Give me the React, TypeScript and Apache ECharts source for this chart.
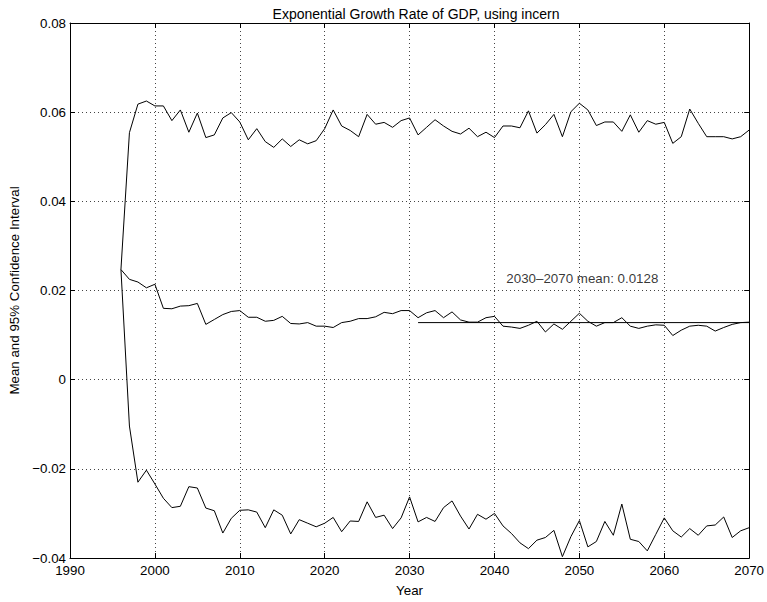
import React, { useEffect, useRef } from "react";
import * as echarts from "echarts";

const TITLE = "Exponential Growth Rate of GDP, using incern";
const X_NAME = "Year";
const Y_NAME = "Mean and 95% Confidence Interval";
const START_YEAR = 1996;
const END_YEAR = 2070;

const UPPER = [
  0.0247, 0.0554, 0.0618, 0.0625,
  0.0614, 0.0614, 0.0581, 0.0605, 0.0555, 0.0598, 0.0543, 0.0549, 0.0587, 0.0599,
  0.0578, 0.0538, 0.0563, 0.0534, 0.0521, 0.0540, 0.0523, 0.0538, 0.0529, 0.0536,
  0.0563, 0.0605, 0.0569, 0.0559, 0.0545, 0.0595, 0.0573, 0.0577, 0.0566, 0.0581,
  0.0587, 0.0549, 0.0566, 0.0583, 0.0569, 0.0557, 0.0551, 0.0564, 0.0545, 0.0555,
  0.0543, 0.0569, 0.0569, 0.0565, 0.0603, 0.0553, 0.0572, 0.0595, 0.0545, 0.0601,
  0.0620, 0.0605, 0.0570, 0.0578, 0.0578, 0.0557, 0.0594, 0.0555, 0.0581, 0.0573,
  0.0577, 0.0530, 0.0545, 0.0607, 0.0575, 0.0545, 0.0545, 0.0545, 0.0540, 0.0545,
  0.0560,
];

const MEAN = [
  0.0247, 0.0225, 0.0219, 0.0206,
  0.0214, 0.0160, 0.0159, 0.0165, 0.0166, 0.0171, 0.0124, 0.0135, 0.0146, 0.0153,
  0.0155, 0.0140, 0.0140, 0.0131, 0.0133, 0.0142, 0.0126, 0.0125, 0.0128, 0.0120,
  0.0120, 0.0117, 0.0128, 0.0131, 0.0137, 0.0137, 0.0141, 0.0151, 0.0148, 0.0155,
  0.0155, 0.0139, 0.0150, 0.0155, 0.0139, 0.0152, 0.0134, 0.0129, 0.0129, 0.0139,
  0.0142, 0.0120, 0.0118, 0.0115, 0.0122, 0.0131, 0.0107, 0.0125, 0.0113, 0.0131,
  0.0149, 0.0131, 0.0120, 0.0128, 0.0128, 0.0139, 0.0120, 0.0115, 0.0120, 0.0123,
  0.0122, 0.0099, 0.0111, 0.0120, 0.0122, 0.0120, 0.0109, 0.0117, 0.0124, 0.0128,
  0.0129,
];

const LOWER = [
  0.0247, -0.0104, -0.0230, -0.0203,
  -0.0234, -0.0266, -0.0287, -0.0284, -0.0240, -0.0243, -0.0288, -0.0294, -0.0344, -0.0311,
  -0.0293, -0.0292, -0.0297, -0.0332, -0.0292, -0.0304, -0.0346, -0.0314, -0.0322, -0.0330,
  -0.0322, -0.0309, -0.0341, -0.0317, -0.0318, -0.0274, -0.0309, -0.0304, -0.0334, -0.0310,
  -0.0263, -0.0319, -0.0309, -0.0318, -0.0287, -0.0272, -0.0306, -0.0335, -0.0302, -0.0313,
  -0.0300, -0.0328, -0.0345, -0.0366, -0.0379, -0.0360, -0.0354, -0.0338, -0.0397, -0.0352,
  -0.0316, -0.0375, -0.0363, -0.0318, -0.0349, -0.0279, -0.0358, -0.0363, -0.0384, -0.0347,
  -0.0310, -0.0339, -0.0353, -0.0334, -0.0349, -0.0328, -0.0326, -0.0308, -0.0354, -0.0339,
  -0.0332,
];

const MEAN_LINE_START = 2031;
const MEAN_LINE_END = 2070;
const MEAN_LINE_VALUE = 0.0128;
const MEAN_TEXT = "2030\u20132070 mean: 0.0128";
const MEAN_TEXT_POS = [2041.4, 0.0226];

const X_TICK_LABELS = ["1990", "2000", "2010", "2020", "2030", "2040", "2050", "2060", "2070"];
const Y_TICK_LABELS = ["\u22120.04", "\u22120.02", "0", "0.02", "0.04", "0.06", "0.08"];

const FONT = "'Liberation Sans', Arial, Helvetica, sans-serif";
const FS = 13.33;

export default function App() {
  const ref = useRef<HTMLDivElement>(null);

  useEffect(() => {
    if (!ref.current) return;
    const chart = echarts.init(ref.current, undefined, { renderer: "svg" });
    const years: number[] = [];
    for (let y = START_YEAR; y <= END_YEAR; y++) years.push(y);
    const pair = (arr: number[]) => years.map((yr, i) => [yr, arr[i]]);

    const xBase = { type: "value" as const, min: 1990, max: 2070, interval: 10 };
    const yBase = { type: "value" as const, min: -0.04, max: 0.08, interval: 0.02 };
    const axisLine = { show: true, onZero: false, lineStyle: { color: "#000", width: 1 } };
    const axisTick = { show: true, inside: true, length: 5, lineStyle: { color: "#000" } };
    const splitLine = { show: true, lineStyle: { color: "#444", type: [1, 3] as any, width: 1 } };

    const lineSeries = (name: string, data: any[]) => ({
      name,
      type: "line",
      data,
      showSymbol: false,
      symbol: "none",
      silent: true,
      lineStyle: { color: "#000", width: 1 },
      itemStyle: { color: "#000" },
      z: 3,
    });

    chart.setOption({
      animation: false,
      backgroundColor: "#fff",
      textStyle: { fontFamily: FONT, color: "#000" },
      title: {
        text: TITLE,
        left: 411,
        textAlign: "center",
        top: 2,
        textStyle: { fontFamily: FONT, fontSize: 14, fontWeight: "normal", color: "#000" },
      },
      grid: { left: 70, right: 16, top: 23, bottom: 43, containLabel: false },
      xAxis: [
        {
          ...xBase,
          position: "bottom",
          axisLine,
          axisTick,
          splitLine,
          axisLabel: {
            color: "#000",
            fontSize: FS,
            fontFamily: FONT,
            margin: 6,
            formatter: (v: number) => X_TICK_LABELS[Math.round((v - 1990) / 10)] ?? "",
          },
          name: X_NAME,
          nameLocation: "middle",
          nameGap: 26,
          nameTextStyle: { color: "#000", fontSize: FS, fontFamily: FONT },
        },
        {
          ...xBase,
          position: "top",
          axisLine,
          axisTick,
          splitLine: { show: false },
          axisLabel: { show: false },
        },
      ],
      yAxis: [
        {
          ...yBase,
          position: "left",
          axisLine,
          axisTick,
          splitLine,
          axisLabel: {
            color: "#000",
            fontSize: FS,
            fontFamily: FONT,
            margin: 4,
            formatter: (v: number) => Y_TICK_LABELS[Math.round((v + 0.04) / 0.02)] ?? "",
          },
          name: Y_NAME,
          nameLocation: "middle",
          nameGap: 48,
          nameRotate: 90,
          nameTextStyle: { color: "#000", fontSize: FS, fontFamily: FONT },
        },
        {
          ...yBase,
          position: "right",
          axisLine,
          axisTick,
          splitLine: { show: false },
          axisLabel: { show: false },
        },
      ],
      series: [
        lineSeries("Upper", pair(UPPER)),
        lineSeries("Mean", pair(MEAN)),
        lineSeries("Lower", pair(LOWER)),
        lineSeries("Long-run mean", [
          [MEAN_LINE_START, MEAN_LINE_VALUE],
          [MEAN_LINE_END, MEAN_LINE_VALUE],
        ]),
        {
          name: "Annotation",
          type: "scatter",
          data: [MEAN_TEXT_POS],
          symbolSize: 0,
          silent: true,
          label: {
            show: true,
            position: "right",
            distance: 0,
            formatter: () => MEAN_TEXT,
            color: "#000",
            fontSize: FS,
            fontFamily: FONT,
          },
        },
      ],
    });

    return () => chart.dispose();
  }, []);

  return (
    <div
      ref={ref}
      style={{ position: "fixed", left: 0, top: 0, width: 767, height: 602, background: "#fff" }}
    />
  );
}
